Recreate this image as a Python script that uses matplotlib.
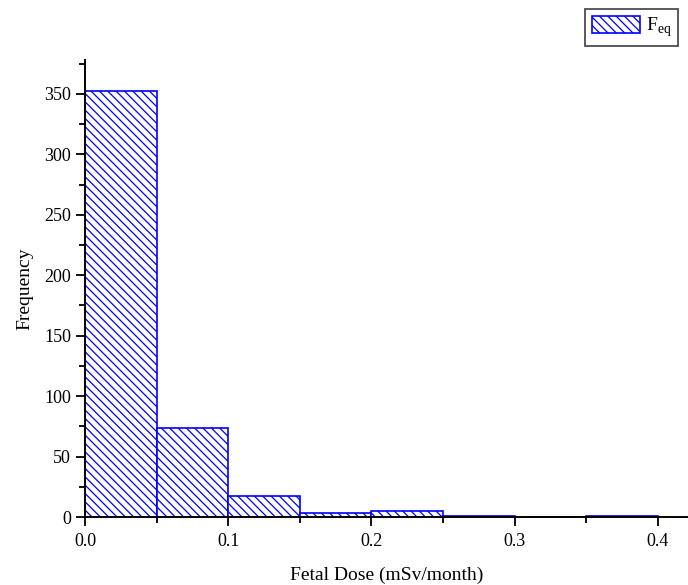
import matplotlib
matplotlib.use("Agg")
import matplotlib.pyplot as plt
import numpy as np

plt.rcParams['font.family'] = ['Liberation Serif', 'DejaVu Serif']
plt.rcParams['hatch.color'] = 'blue'
plt.rcParams['hatch.linewidth'] = 0.9

bin_edges = [0.0, 0.05, 0.10, 0.15, 0.20, 0.25, 0.30, 0.35, 0.40]
counts = [352, 74, 17, 3, 5, 1, 0, 1]
x_ticks = [0.0, 0.1, 0.2, 0.3, 0.4]
x_tick_labels = ["0.0", "0.1", "0.2", "0.3", "0.4"]
y_ticks = [0, 50, 100, 150, 200, 250, 300, 350]

fig = plt.figure(figsize=(6.88, 5.85), dpi=100)
ax = fig.add_axes([85/688, 68/585, 603/688, 457/585])

lefts = bin_edges[:-1]
widths = np.diff(bin_edges)
ax.bar(lefts, counts, width=widths, align='edge', facecolor='white',
       edgecolor='blue', hatch='\\\\\\\\', linewidth=1.2, label='F$_{\\mathregular{eq}}$')

ax.set_xlim(0, 0.421)
ax.set_ylim(0, 378)
ax.set_xticks(x_ticks)
ax.set_xticklabels(x_tick_labels)
ax.set_xticks([0.05, 0.15, 0.25, 0.35], minor=True)
ax.set_yticks(y_ticks)
ax.set_yticks([25, 75, 125, 175, 225, 275, 325, 375], minor=True)
ax.tick_params(axis='both', which='major', direction='out', length=6.5, width=1.3, labelsize=13)
ax.tick_params(axis='x', which='major', pad=5)
ax.tick_params(axis='both', which='minor', direction='out', length=4.5, width=1.3)
ax.spines['top'].set_visible(False)
ax.spines['right'].set_visible(False)
ax.spines['left'].set_linewidth(1.4)
ax.spines['bottom'].set_linewidth(1.4)

ax.set_xlabel('Fetal Dose (mSv/month)', fontsize=14, labelpad=12)
ax.set_ylabel('Frequency', fontsize=14, labelpad=8)

leg = ax.legend(loc='upper right', bbox_to_anchor=(678/688, 1 - 9/585), bbox_transform=fig.transFigure,
                fontsize=14, fancybox=False, edgecolor='#4d4d4d', framealpha=1,
                handlelength=2.45, handleheight=0.95, borderpad=0.35, handletextpad=0.3,
                borderaxespad=0)
leg.get_frame().set_linewidth(1.3)

fig.savefig('out.png', dpi=100)
